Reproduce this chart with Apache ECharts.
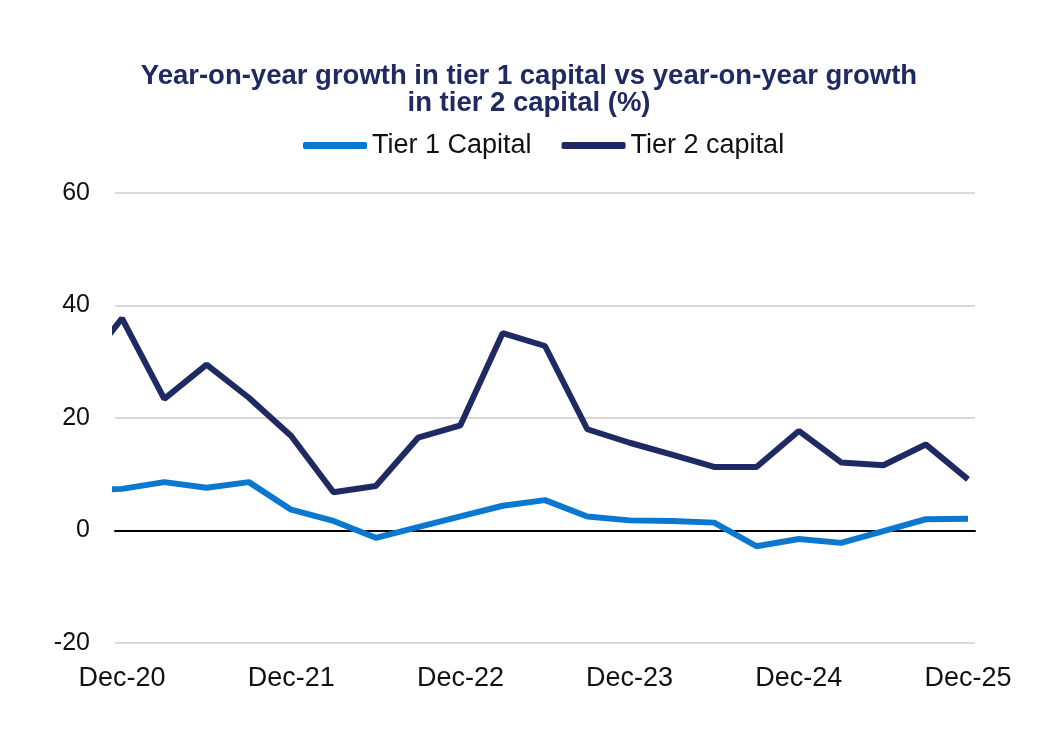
<!DOCTYPE html>
<html><head><meta charset="utf-8">
<script src="https://cdn.jsdelivr.net/npm/echarts@6/dist/echarts.min.js"></script>
<style>html,body{margin:0;padding:0;background:#fff}#c{width:1058px;height:756px}</style>
</head><body><div id="c"></div>
<script>
// quarter index: 0 = Dec-20 ... 20 = Dec-25 (-1 = Sep-20, clipped at the chart edge)
var quarters = [-1,0,1,2,3,4,5,6,7,8,9,10,11,12,13,14,15,16,17,18,19,20];
var tier1 = [7.2,7.4,8.6,7.6,8.6,3.7,1.7,-1.3,0.6,2.5,4.4,5.4,2.5,1.8,1.7,1.4,-2.8,-1.5,-2.2,-0.1,2.0,2.1];
var tier2 = [28.1,37.7,23.4,29.5,23.6,16.8,6.8,7.9,16.5,18.7,35.1,32.8,18.0,15.6,13.5,11.3,11.3,17.7,12.1,11.6,15.3,9.1];
var tickQuarters = [0,4,8,12,16,20];
var tickLabels = ['Dec-20','Dec-21','Dec-22','Dec-23','Dec-24','Dec-25'];
var yTicks = [-20,0,20,40,60];

function pairs(xs, ys){ return xs.map(function(x,i){ return [x, ys[i]]; }); }

var FONT = 'Liberation Sans, Arial, sans-serif';
var chart = echarts.init(document.getElementById('c'));
chart.setOption({
  animation:false,
  textStyle:{fontFamily:FONT},
  title:{
    text:'Year-on-year growth in tier 1 capital vs year-on-year growth\nin tier 2 capital (%)',
    left:'center', top:58,
    textStyle:{fontSize:27.5, fontWeight:'bold', color:'#1f2a63', lineHeight:27, fontFamily:FONT}
  },
  legend:{
    top:127, left:298, icon:'roundRect', itemWidth:64, itemHeight:7, itemGap:30,
    textStyle:{fontSize:27, color:'#111', fontFamily:FONT},
    data:['Tier 1 Capital','Tier 2 capital']
  },
  grid:{left:115, right:83, top:193, bottom:113, containLabel:false},
  xAxis:{
    type:'value', min:-0.165, max:20.165,
    axisLine:{onZero:true, lineStyle:{color:'#000', width:2}},
    axisTick:{show:false},
    splitLine:{show:false},
    axisLabel:{customValues:tickQuarters, margin:22, fontSize:27, color:'#111', fontFamily:FONT,
      formatter:function(v){ var i = tickQuarters.indexOf(Math.round(v)); return i>=0 ? tickLabels[i] : ''; }}
  },
  yAxis:{
    type:'value', min:yTicks[0], max:yTicks[yTicks.length-1], interval:20,
    axisLine:{show:false}, axisTick:{show:false},
    axisLabel:{fontSize:25, color:'#111', margin:25, fontFamily:FONT},
    splitLine:{lineStyle:{color:'#d9d9d9', width:2}}
  },
  series:[
    {name:'Tier 1 Capital', type:'line', data:pairs(quarters,tier1), showSymbol:false, symbol:'none',
     lineStyle:{color:'#0b78d0', width:6}, itemStyle:{color:'#0b78d0'}, z:3},
    {name:'Tier 2 capital', type:'line', data:pairs(quarters,tier2), showSymbol:false, symbol:'none',
     lineStyle:{color:'#1f2a63', width:6}, itemStyle:{color:'#1f2a63'}, z:4}
  ]
});
</script></body></html>
